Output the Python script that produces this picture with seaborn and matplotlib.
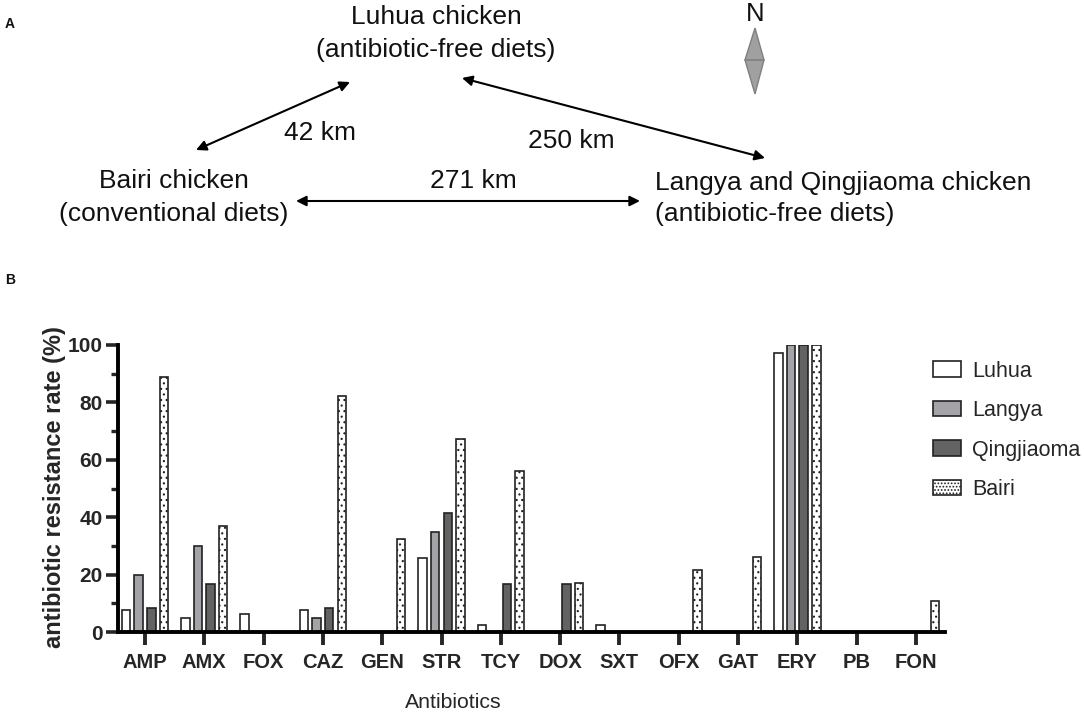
import matplotlib
matplotlib.use("Agg")
import matplotlib.pyplot as plt
import matplotlib.patches as mpatches
from matplotlib.ticker import MultipleLocator
import pandas as pd
import seaborn as sns

antibiotics = ["AMP", "AMX", "FOX", "CAZ", "GEN", "STR", "TCY", "DOX", "SXT", "OFX", "GAT", "ERY", "PB", "FON"]
luhua = [7.5, 5, 6.3, 7.5, 0, 25.7, 2.5, 0, 2.5, 0, 0, 97.2, 0, 0]
langya = [20, 30, 0, 5, 0, 35, 0, 0, 0, 0, 0, 100, 0, 0]
qingjiaoma = [8.2, 16.7, 0, 8.2, 0, 41.6, 16.7, 16.7, 0, 0, 0, 100, 0, 0]
bairi = [89, 36.8, 0, 82.3, 32.3, 67.2, 56.2, 17.1, 0, 21.6, 26, 100, 0, 10.8]
sites = ["Luhua", "Langya", "Qingjiaoma", "Bairi"]
colors = ["#ffffff", "#a3a3a8", "#636363", "#ffffff"]

W, H = 1084, 714

sns.set_style("white")
plt.rcParams['font.family'] = ['Liberation Sans', 'DejaVu Sans']
plt.rcParams['hatch.linewidth'] = 0.8

df = pd.DataFrame({
    "antibiotic": antibiotics * 4,
    "rate": luhua + langya + qingjiaoma + bairi,
    "site": [s for s in sites for _ in antibiotics],
})

fig = plt.figure(figsize=(W / 100, H / 100), dpi=100)

# panel A, diagram in pixel coordinates
top = fig.add_axes([0, 0, 1, 1])
top.set_xlim(0, W)
top.set_ylim(H, 0)
top.axis("off")

def label(x, y, s, **kw):
    kw.setdefault("fontsize", 19)
    kw.setdefault("ha", "center")
    top.text(x, y, s, va="center", color="#111111", **kw)

def arrow(a, b):
    top.annotate("", xy=b, xytext=a,
                 arrowprops=dict(arrowstyle="<|-|>", color="black", lw=1.5,
                                 mutation_scale=15, shrinkA=0, shrinkB=0))

label(5, 24, "A", fontsize=10, fontweight="bold", ha="left")
label(5, 280, "B", fontsize=10, fontweight="bold", ha="left")
label(436, 17, "Luhua chicken")
label(436, 50, "(antibiotic-free diets)")
label(174, 181, "Bairi chicken")
label(174, 214, "(conventional diets)")
label(655, 183, "Langya and Qingjiaoma chicken", ha="left")
label(655, 214, "(antibiotic-free diets)", ha="left")
label(320, 133, "42 km")
label(571, 141, "250 km")
label(473, 181, "271 km")
label(755, 14, "N", fontsize=18.5)

arrow((196, 150), (350, 82))
arrow((462, 78), (765, 158))
arrow((296, 201), (640, 201))

top.add_patch(mpatches.Polygon([(755, 28), (764, 60), (755, 94), (745, 60)],
                               facecolor="#a0a0a0", edgecolor="#808080", lw=1))
top.plot([745, 764], [60, 60], color="#808080", lw=1.2)

# panel B
ax = fig.add_axes([118 / W, 1 - 632 / H, (945 - 118) / W, (632 - 345) / H])
ax.patch.set_alpha(0)
sns.barplot(data=df, x="antibiotic", y="rate", hue="site", hue_order=sites,
            palette=colors, width=0.85, gap=0.32, saturation=1,
            edgecolor="#222222", linewidth=1.2, legend=False, ax=ax)

for bar in ax.containers[3]:
    bar.set_hatch("...")

ax.set_xlim(-0.455, 13.49)
ax.set_ylim(0, 100)
ax.yaxis.set_major_locator(MultipleLocator(20))
ax.yaxis.set_minor_locator(MultipleLocator(10))
ax.tick_params(axis="y", which="major", left=True, length=9, width=2.6, pad=2, labelsize=15)
ax.tick_params(axis="y", which="minor", left=True, length=5, width=2.4)
ax.tick_params(axis="x", bottom=True, length=9, width=2.8, pad=6, labelsize=14.5)
for t in ax.get_xticklabels() + ax.get_yticklabels():
    t.set_fontweight("bold")

sns.despine(ax=ax)
ax.spines["left"].set_linewidth(2.8)
ax.spines["bottom"].set_linewidth(2.8)
ax.spines["left"].set_color("black")
ax.spines["bottom"].set_color("black")
for s in ax.spines.values():
    s.set_zorder(5)
    s.set_capstyle("projecting")

ax.set_ylabel("antibiotic resistance rate (%)", fontsize=17, fontweight="bold")
ax.yaxis.set_label_coords((66 - 118) / (945 - 118), (632 - 487) / (632 - 345))
ax.set_xlabel("Antibiotics", fontsize=15.3)
ax.xaxis.set_label_coords((453 - 118) / (945 - 118), -(702 - 632) / (632 - 345))
ax.xaxis.label.set_verticalalignment("center")

handles = [mpatches.Patch(facecolor=c, edgecolor="#222222", lw=1.2, hatch=h)
           for c, h in zip(colors, ["", "", "", "....."])]
fig.legend(handles, sites, loc="upper left", bbox_to_anchor=(924 / W, 1 - 352 / H),
           frameon=False, fontsize=15.5, handlelength=1.3, handleheight=0.72,
           labelspacing=0.86, handletextpad=0.55, borderpad=0.4, borderaxespad=0)

fig.savefig("out.png", dpi=100)
